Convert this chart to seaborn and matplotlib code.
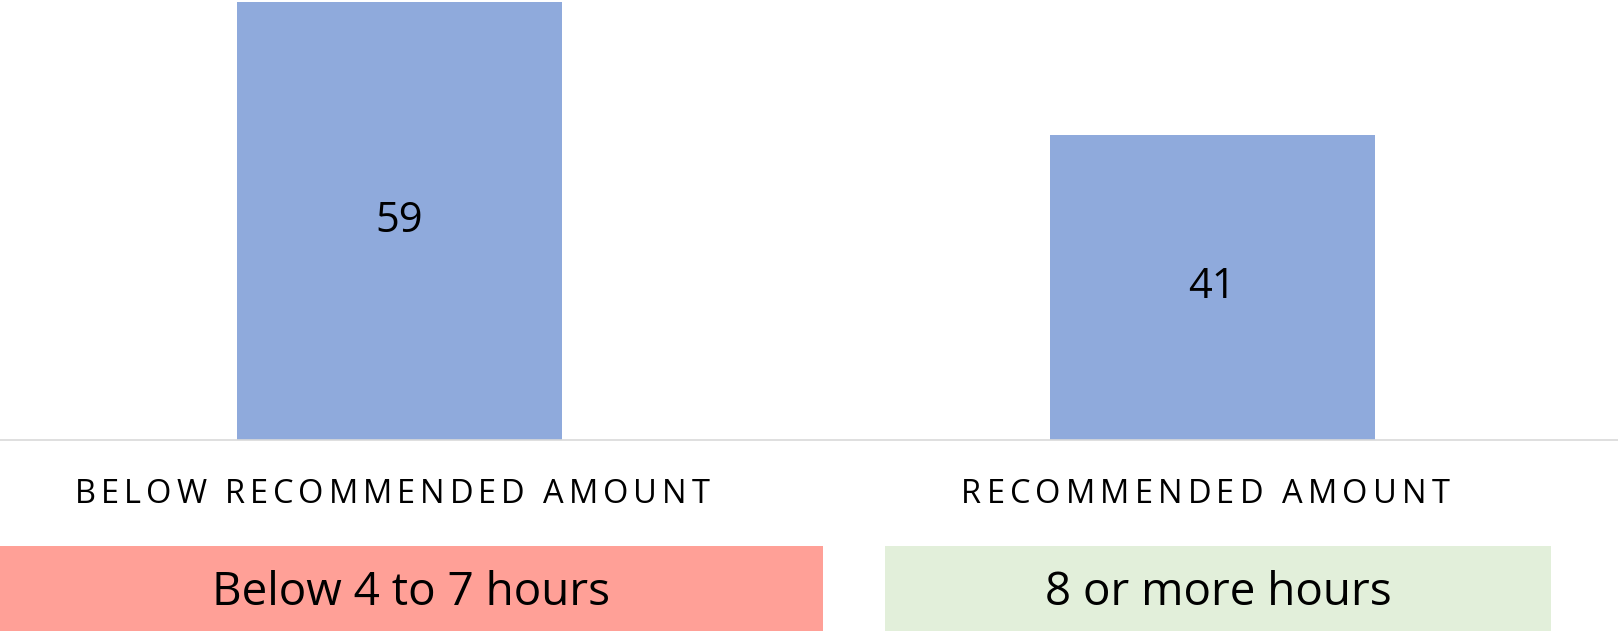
import matplotlib
matplotlib.use("Agg")
import matplotlib.pyplot as plt
from matplotlib.patches import Rectangle
from matplotlib.font_manager import FontProperties
import seaborn as sns
import pandas as pd

# Data
categories = ["BELOW RECOMMENDED AMOUNT", "RECOMMENDED AMOUNT"]
values = [59, 41]
band_labels = ["Below 4 to 7 hours", "8 or more hours"]

BAR_COLOR = "#8FAADC"
BAND_COLORS = ["#FFA097", "#E2EFDA"]
AXIS_COLOR = "#D9D9D9"
FONT = "Open Sans"

W, H, DPI = 1618, 631, 100

sns.set_theme(style="white")
plt.rcParams["font.family"] = [FONT, "DejaVu Sans"]

fig = plt.figure(figsize=(W / DPI, H / DPI), dpi=DPI)
fig.patch.set_facecolor("white")

# Plot area in pixel terms: baseline at y=439.5 from the top
base_px = 439.5
ax = fig.add_axes([0, (H - base_px) / H, 1, base_px / H])

df = pd.DataFrame({"category": categories, "value": values})
sns.barplot(data=df, x="category", y="value", color=BAR_COLOR, width=0.4,
            saturation=1, ax=ax, edgecolor="none")

ax.set_xlim(-0.491, 1.499)
ax.set_ylim(0, 59.27)
ax.set_xlabel("")
ax.set_ylabel("")
ax.set_xticks([])
ax.set_yticks([])
for side in ["top", "left", "right"]:
    ax.spines[side].set_visible(False)
ax.spines["bottom"].set_color(AXIS_COLOR)
ax.spines["bottom"].set_linewidth(1.2)
ax.patch.set_alpha(0)

# Value labels in the middle of each bar
for i, v in enumerate(values):
    ax.text(i, v / 2, f"{v}", ha="center", va="center", fontsize=30,
            color="black", family=FONT)

fig.canvas.draw()
renderer = fig.canvas.get_renderer()


def text_width(s, fp):
    return renderer.get_text_width_height_descent(s, fp, ismath=False)[0]


def tracked_text(cx_px, baseline_px, s, size, total_px):
    """Draw a letter-spaced string centred at cx_px, spanning total_px."""
    fp = FontProperties(family=FONT, size=size)
    ref = text_width("XX", fp)
    pos = [text_width("X" + s[:i] + "X", fp) - ref for i in range(len(s))]
    natural = text_width(s, fp)
    track = (total_px - natural) / (len(s) - 1)
    x0 = cx_px - total_px / 2
    for i, ch in enumerate(s):
        if ch == " ":
            continue
        fig.text((x0 + pos[i] + i * track) / W, 1 - baseline_px / H, ch,
                 fontproperties=fp, color="black", ha="left", va="baseline")


# Category labels below the axis
bar_centers_px = [ax.transData.transform((i, 0))[0] for i in range(len(categories))]
label_widths = [635, 488]
for cx, cat, tw in zip(bar_centers_px, categories, label_widths):
    tracked_text(cx - 7, 502.7, cat, 23.5, tw)

# Coloured bands with hour ranges
bands_px = [(0, 823), (885, 1551)]
band_top, band_bottom = 546, 631
for (x0, x1), color, lab in zip(bands_px, BAND_COLORS, band_labels):
    fig.patches.append(Rectangle((x0 / W, 1 - band_bottom / H), (x1 - x0) / W,
                                 (band_bottom - band_top) / H,
                                 transform=fig.transFigure, facecolor=color,
                                 edgecolor="none", zorder=0))
    fig.text(((x0 + x1) / 2) / W, 1 - 605 / H, lab, ha="center", va="baseline",
             fontsize=33, color="black", family=FONT)

fig.savefig("out.png", dpi=DPI)
